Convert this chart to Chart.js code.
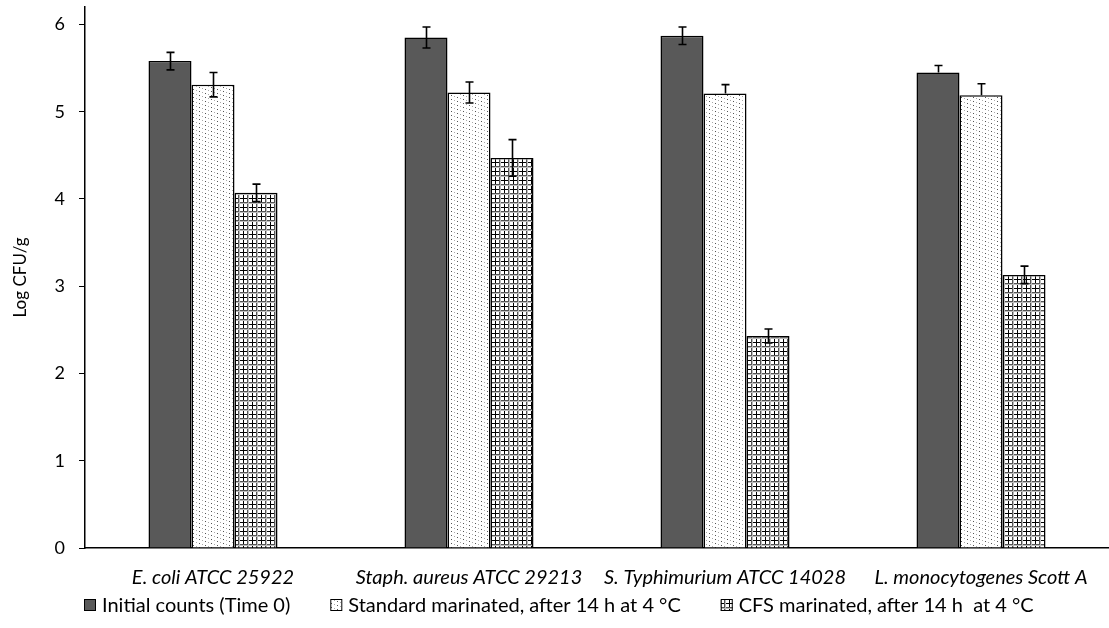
<!DOCTYPE html>
<html>
<head>
<meta charset="utf-8">
<script src="https://cdn.jsdelivr.net/npm/chart.js@4.4.1/dist/chart.umd.min.js"></script>
<style>
  html, body { margin: 0; padding: 0; background: #fff; }
  #chart { display: block; }
</style>
</head>
<body>
<canvas id="chart" width="1109" height="628"></canvas>
<script>
const categories = ['E. coli ATCC 25922', 'Staph. aureus ATCC 29213', 'S. Typhimurium ATCC 14028', 'L. monocytogenes Scott A'];
const seriesNames = ['Initial counts (Time 0)', 'Standard marinated, after 14 h at 4 \u00b0C', 'CFS marinated, after 14 h  at 4 \u00b0C'];

const initialCounts = [5.58, 5.85, 5.87, 5.45];
const standardMarinated = [5.31, 5.22, 5.21, 5.19];
const cfsMarinated = [4.07, 4.47, 2.43, 3.13];

const initialErrUp = [0.10, 0.12, 0.10, 0.08];
const initialErrDown = [0.10, 0.12, 0.10, 0];
const standardErrUp = [0.14, 0.12, 0.10, 0.13];
const standardErrDown = [0.14, 0.12, 0, 0];
const cfsErrUp = [0.10, 0.21, 0.08, 0.10];
const cfsErrDown = [0.10, 0.21, 0.08, 0.10];

const yTicks = [0, 1, 2, 3, 4, 5, 6];

const FONT = 'Lato, "Open Sans", sans-serif';

const makePattern = (size, draw) => {
  const c = document.createElement('canvas');
  c.width = size; c.height = size;
  const g = c.getContext('2d');
  draw(g);
  return g.createPattern(c, 'repeat');
};

const dotPattern = makePattern(12, (g) => {
  g.fillStyle = '#fff';
  g.fillRect(0, 0, 12, 12);
  g.fillStyle = '#555';
  g.fillRect(1, 1, 1, 1);
  g.fillRect(7, 3, 1, 1);
  g.fillRect(1, 5, 1, 1);
  g.fillRect(7, 7, 1, 1);
  g.fillRect(1, 9, 1, 1);
  g.fillRect(7, 11, 1, 1);
  g.fillStyle = '#aaa';
  g.fillRect(4, 2, 1, 1);
  g.fillRect(10, 4, 1, 1);
  g.fillRect(4, 6, 1, 1);
  g.fillRect(10, 8, 1, 1);
  g.fillRect(4, 10, 1, 1);
  g.fillRect(10, 0, 1, 1);
});

const gridPattern = makePattern(9, (g) => {
  g.fillStyle = '#fff';
  g.fillRect(0, 0, 9, 9);
  g.fillStyle = '#000';
  g.fillRect(0, 0, 9, 1);
  g.fillRect(0, 0, 1, 9);
  g.fillStyle = '#555';
  g.fillRect(0, 4, 9, 1);
  g.fillRect(4, 0, 1, 9);
  g.fillStyle = '#bbb';
  g.fillRect(0, 5, 9, 1);
  g.fillRect(5, 0, 1, 9);
});

const fills = ['#595959', dotPattern, gridPattern];

const errorBars = {
  id: 'errorBars',
  afterDatasetsDraw(chart) {
    const { ctx, scales: { y } } = chart;
    const errs = [[initialErrUp, initialErrDown], [standardErrUp, standardErrDown], [cfsErrUp, cfsErrDown]];
    ctx.save();
    ctx.strokeStyle = '#000';
    ctx.lineWidth = 1.6;
    chart.data.datasets.forEach((ds, di) => {
      const meta = chart.getDatasetMeta(di);
      meta.data.forEach((bar, i) => {
        const v = ds.data[i];
        const top = y.getPixelForValue(v + errs[di][0][i]);
        const bot = y.getPixelForValue(v - errs[di][1][i]);
        const x = Math.round(bar.x) + 0.5;
        ctx.beginPath();
        ctx.moveTo(x, top); ctx.lineTo(x, bot);
        ctx.moveTo(x - 4, top); ctx.lineTo(x + 4, top);
        if (errs[di][1][i] > 0) { ctx.moveTo(x - 4, bot); ctx.lineTo(x + 4, bot); }
        ctx.stroke();
      });
    });
    ctx.restore();
  }
};

const bottomLegend = {
  id: 'bottomLegend',
  afterDraw(chart) {
    const { ctx } = chart;
    const box = 12, gapText = 6, gapItem = 40, cy = 605;
    ctx.save();
    ctx.font = '20px ' + FONT;
    ctx.textBaseline = 'middle';
    const widths = seriesNames.map(t => ctx.measureText(t).width);
    const total = widths.reduce((a, w) => a + box + gapText + w, 0) + gapItem * (seriesNames.length - 1);
    let x = Math.round((chart.width - total) / 2) + 4;
    seriesNames.forEach((t, i) => {
      ctx.fillStyle = fills[i];
      ctx.fillRect(x, cy - box / 2, box, box);
      ctx.strokeStyle = '#000';
      ctx.lineWidth = 1;
      ctx.strokeRect(x + 0.5, cy - box / 2 + 0.5, box - 1, box - 1);
      ctx.fillStyle = '#000';
      ctx.fillText(t, x + box + gapText, cy + 1);
      x += box + gapText + widths[i] + gapItem;
    });
    ctx.restore();
  }
};

const series = [initialCounts, standardMarinated, cfsMarinated];

new Chart(document.getElementById('chart'), {
  type: 'bar',
  data: {
    labels: categories,
    datasets: series.map((data, i) => ({
      label: seriesNames[i],
      data,
      backgroundColor: fills[i],
      borderColor: '#000',
      borderWidth: 1.5,
      borderSkipped: 'bottom',
      categoryPercentage: 0.504,
      barPercentage: 1.0
    }))
  },
  options: {
    responsive: false,
    animation: false,
    layout: { padding: { top: 7, right: 0, bottom: 28, left: 0 } },
    plugins: {
      legend: { display: false },
      tooltip: { enabled: false }
    },
    scales: {
      x: {
        grid: { display: false },
        border: { color: '#000', width: 1.5 },
        ticks: {
          color: '#000',
          padding: 10,
          maxRotation: 0,
          font: { family: FONT, size: 20, style: 'italic' }
        }
      },
      y: {
        min: 0,
        max: 6.2,
        afterBuildTicks(scale) { scale.ticks = yTicks.map(v => ({ value: v })); },
        afterFit(scale) { scale.width = 85; scale.paddingTop = 0; scale.paddingBottom = 0; },
        grid: { drawOnChartArea: false, drawTicks: true, tickLength: 6, color: '#000', lineWidth: 1 },
        border: { color: '#000', width: 1.5 },
        ticks: {
          color: '#000',
          padding: 14,
          font: { family: FONT, size: 18 }
        },
        title: {
          display: true,
          text: 'Log CFU/g',
          color: '#000',
          padding: { top: 10, bottom: 12 },
          font: { family: FONT, size: 17 }
        }
      }
    }
  },
  plugins: [errorBars, bottomLegend]
});
</script>
</body>
</html>
